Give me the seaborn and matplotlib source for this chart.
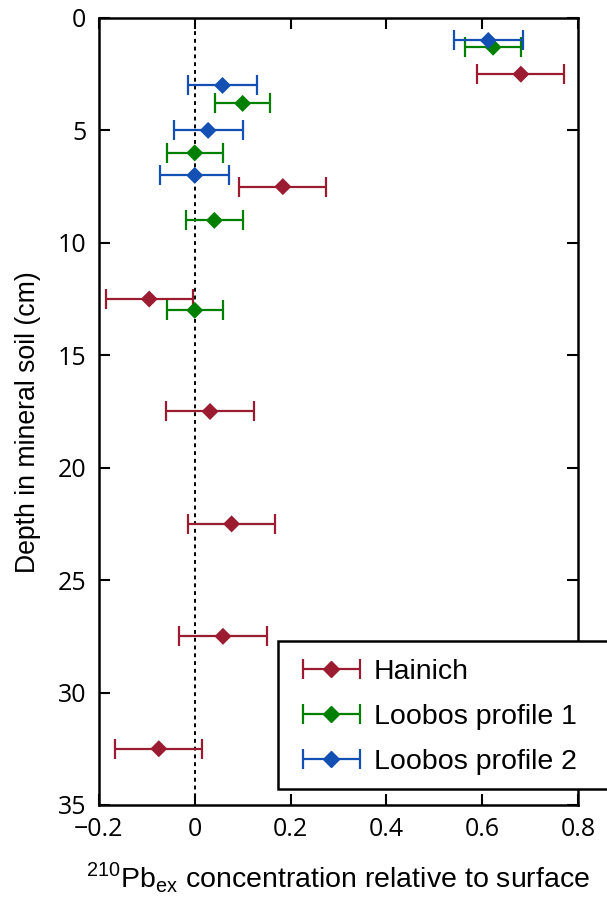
import numpy as np
import pandas as pd
import matplotlib
matplotlib.use("Agg")
import matplotlib.pyplot as plt
import seaborn as sns
from matplotlib import font_manager as fm
from matplotlib.legend_handler import HandlerErrorbar
from matplotlib.patches import Rectangle

# ---- data ----
hainich_depth = [2.5, 7.5, 12.5, 17.5, 22.5, 27.5, 32.5]
hainich_value = [0.681, 0.184, -0.095, 0.032, 0.077, 0.059, -0.075]
hainich_err = [0.091, 0.091, 0.091, 0.091, 0.091, 0.091, 0.091]

loobos1_depth = [1.3, 3.8, 6.0, 9.0, 13.0]
loobos1_value = [0.623, 0.100, 0.000, 0.041, 0.000]
loobos1_err = [0.059, 0.058, 0.058, 0.059, 0.058]

loobos2_depth = [1.0, 3.0, 5.0, 7.0]
loobos2_value = [0.613, 0.058, 0.028, 0.000]
loobos2_err = [0.072, 0.072, 0.072, 0.072]

series_names = ["Hainich", "Loobos profile 1", "Loobos profile 2"]
series_colors = ["#9b1b30", "#008000", "#1450b4"]

x_ticks = [-0.2, 0, 0.2, 0.4, 0.6, 0.8]
x_ticklabels = ["\u22120.2", "0", "0.2", "0.4", "0.6", "0.8"]
y_ticks = [0, 5, 10, 15, 20, 25, 30, 35]

frames = []
for name, d, v, e in zip(series_names,
                         [hainich_depth, loobos1_depth, loobos2_depth],
                         [hainich_value, loobos1_value, loobos2_value],
                         [hainich_err, loobos1_err, loobos2_err]):
    frames.append(pd.DataFrame({"series": name, "depth": d, "value": v, "err": e}))
df = pd.concat(frames, ignore_index=True)

sns.set_theme(style="ticks")
avail = {f.name for f in fm.fontManager.ttflist}
tick_font = "Open Sans" if "Open Sans" in avail else "DejaVu Sans"
label_font = "Liberation Sans" if "Liberation Sans" in avail else "DejaVu Sans"
plt.rcParams["font.family"] = [label_font, "DejaVu Sans"]
plt.rcParams["mathtext.fontset"] = "custom"
plt.rcParams["mathtext.rm"] = label_font
for key in ["text.color", "axes.labelcolor", "xtick.color", "ytick.color",
            "xtick.labelcolor", "ytick.labelcolor", "axes.edgecolor"]:
    plt.rcParams[key] = "black"

fig = plt.figure(figsize=(6.07, 8.99), dpi=100)
ax = fig.add_axes([0.163, 0.1046, 0.789, 0.8754])

palette = dict(zip(series_names, series_colors))

# dotted zero line
ax.axvline(0, color="black", linestyle=(0, (2, 2)), linewidth=1.4, zorder=1)

handles = []
for name in series_names:
    sub = df[df["series"] == name]
    ax.errorbar(sub["value"], sub["depth"], xerr=sub["err"], fmt="none",
                ecolor=palette[name], elinewidth=1.6, capsize=7, capthick=1.6, zorder=2)
    h = ax.errorbar([np.nan], [np.nan], xerr=[np.nan], fmt="D", color=palette[name],
                    ecolor=palette[name], markersize=8, elinewidth=1.6, capsize=7,
                    capthick=1.6, label=name)
    handles.append(h)

sns.scatterplot(data=df, x="value", y="depth", hue="series", palette=palette,
                marker="D", s=75, edgecolor="none", legend=False, ax=ax, zorder=3)

ax.set_xlim(-0.2, 0.8)
ax.set_ylim(35, 0)
ax.set_xticks(x_ticks)
ax.set_xticklabels(x_ticklabels)
ax.set_yticks(y_ticks)
ax.tick_params(direction="in", length=8, width=1.5, top=True, right=True,
               labelsize=18, pad=9, colors="black")
for lab in ax.get_xticklabels() + ax.get_yticklabels():
    lab.set_fontfamily(tick_font)
for sp in ax.spines.values():
    sp.set_linewidth(1.8)
    sp.set_color("black")

ax.set_xlabel(r"$^{210}$Pb$_{\mathrm{ex}}$ concentration relative to surface",
              fontsize=20.5, fontfamily=label_font, labelpad=13, color="black")
ax.set_ylabel("Depth in mineral soil (cm)", fontsize=19.2, fontfamily=label_font,
              color="black")
ax.yaxis.set_label_coords(-0.121, 0.487)

# legend frame (extends past the figure's right edge as in the reference)
fig.patches.append(Rectangle((278 / 607, 1 - 789 / 899), 0.6, 148 / 899,
                             transform=fig.transFigure, facecolor="white",
                             edgecolor="black", linewidth=1.8, zorder=5))

leg = fig.legend(handles=handles, labels=series_names, loc="upper left",
                 bbox_to_anchor=(300 / 607, 1 - 659 / 899), bbox_transform=fig.transFigure,
                 borderaxespad=0, borderpad=0, frameon=False,
                 prop={"family": label_font, "size": 20.5}, handlelength=2.2,
                 handletextpad=0.4, labelspacing=0.667,
                 handler_map={type(handles[0]): HandlerErrorbar(xerr_size=1.0)})
for t in leg.get_texts():
    t.set_color("black")
leg.set_zorder(6)

fig.savefig("out.png", dpi=100)
